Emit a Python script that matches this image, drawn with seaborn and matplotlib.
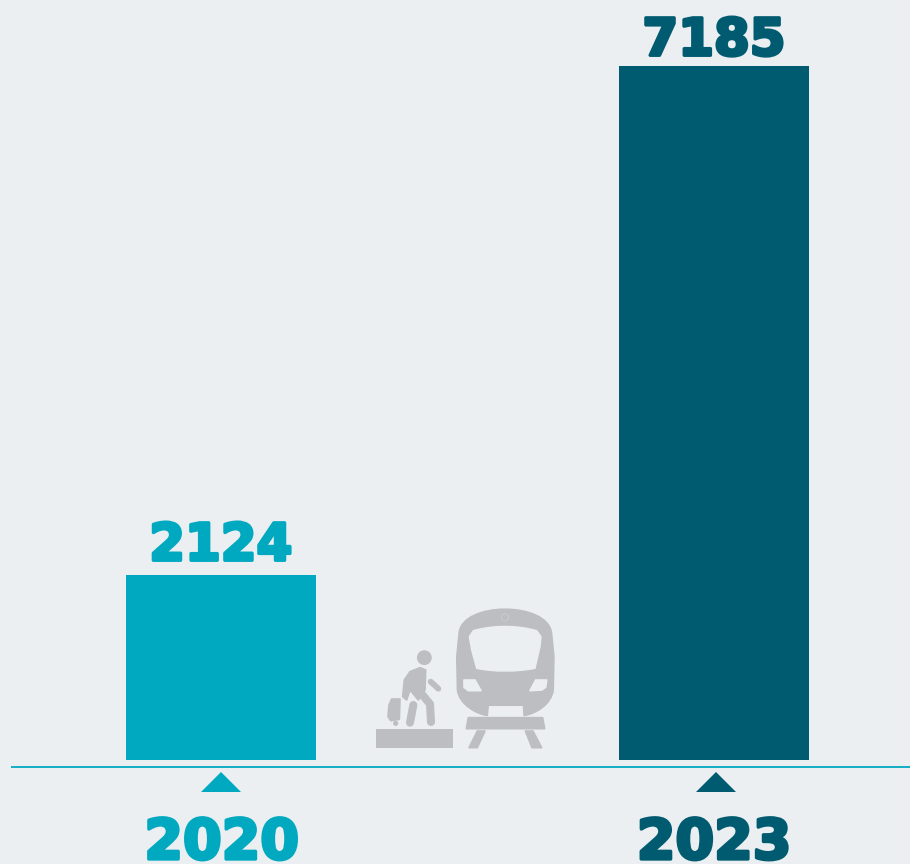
import matplotlib
matplotlib.use('Agg')
import matplotlib.pyplot as plt
import matplotlib.patheffects as pe
from matplotlib.patches import Circle, Polygon, PathPatch, Rectangle
from matplotlib.path import Path
import pandas as pd
import seaborn as sns

years = ['2020', '2023']
values = [2124, 7185]
bar_colors = ['#00A9C0', '#005B70']
year_colors = ['#00A9C0', '#005B70']

BG = '#EBEFF2'
GREY = '#BDBEC2'
FONT = ['DejaVu Sans']

sns.set_theme(style='white')
plt.rcParams['font.family'] = FONT

df = pd.DataFrame({'year': years, 'value': values})

fig = plt.figure(figsize=(9.10, 8.64), dpi=100, facecolor=BG)
# bars stop at y=760px, the axis does not start at zero in the original
ax = fig.add_axes([0, 1 - 760 / 864, 1, 760 / 864])
sns.barplot(data=df, x='year', y='value', hue='year', palette=bar_colors,
            width=0.385, legend=False, saturation=1, linewidth=0, ax=ax)
ax.set_facecolor('none')
ax.set_xlim(-0.448, 1.3976)
ax.set_ylim(284.5, 7841)
ax.axis('off')

# value labels over the bars
for i, (v, c, off) in enumerate(zip(values, bar_colors, [10.6, 7.7])):
    ax.annotate(str(v), (i, v), xytext=(0, off), textcoords='offset points',
                ha='center', va='baseline', fontsize=37, fontweight='bold',
                color=c, path_effects=[pe.withStroke(linewidth=2.4, foreground=c)])

# overlay in pixel coordinates for baseline, arrows, years and the icon
ov = fig.add_axes([0, 0, 1, 1], facecolor='none')
ov.set_xlim(0, 910)
ov.set_ylim(864, 0)
ov.axis('off')

ov.plot([11, 910], [767, 767], color='#00A9C0', lw=1.3, solid_capstyle='butt')

for cx, c in [(221, year_colors[0]), (716, year_colors[1])]:
    ov.add_patch(Polygon([(cx - 20, 792), (cx, 772), (cx + 20, 792)], closed=True, fc=c, ec='none'))

for cx, y, c in [(221.5, years[0], year_colors[0]), (714, years[1], year_colors[1])]:
    ov.text(cx, 859, y, ha='center', va='baseline', fontsize=40, fontweight='bold',
            color=c, path_effects=[pe.withStroke(linewidth=2.4, foreground=c)])


def zp(pts):
    return [(360 + x / 3, 600 + y / 3) for x, y in pts]


def blob(pts, color=GREY):
    ov.add_patch(Polygon(zp(pts), closed=True, fc=color, ec=color, lw=1.2, joinstyle='round'))


def limb(pts, width):
    xs, ys = zip(*zp(pts))
    ov.plot(xs, ys, color=GREY, lw=width, solid_capstyle='round', solid_joinstyle='round')


# train body
codes = [Path.MOVETO, Path.CURVE4, Path.CURVE4, Path.CURVE4, Path.LINETO, Path.LINETO,
         Path.CURVE4, Path.CURVE4, Path.CURVE4, Path.LINETO, Path.LINETO,
         Path.CURVE4, Path.CURVE4, Path.CURVE4, Path.LINETO, Path.LINETO, Path.LINETO]
verts = zp([(382, 347), (350, 342), (298, 315), (292, 270), (290, 170), (297, 100),
            (305, 3), (565, 3), (575, 100), (582, 170), (580, 270),
            (574, 315), (525, 342), (492, 347), (490, 316), (385, 316), (382, 347)])
ov.add_patch(PathPatch(Path(verts, codes), fc=GREY, ec=GREY, lw=1.0, joinstyle='round'))

# window and headlights are cut out with the background colour
window = zp([(328, 110), (340, 92)]) + zp([(400, 75), (470, 75), (530, 92)]) + \
    zp([(543, 110), (540, 140), (525, 205)]) + zp([(470, 216), (400, 216), (350, 205)]) + \
    zp([(335, 150), (328, 110)])
wcodes = [Path.MOVETO, Path.LINETO, Path.CURVE4, Path.CURVE4, Path.CURVE4,
          Path.LINETO, Path.LINETO, Path.LINETO, Path.CURVE4, Path.CURVE4, Path.CURVE4,
          Path.LINETO, Path.LINETO]
ov.add_patch(PathPatch(Path(window, wcodes), fc=BG, ec=BG, lw=1.0, joinstyle='round'))
blob([(312, 240), (345, 240), (363, 272), (325, 272), (312, 262)], BG)
blob([(527, 240), (560, 240), (557, 262), (545, 270), (510, 272)], BG)
cx0, cy0 = zp([(435, 52)])[0]
ov.add_patch(Circle((cx0, cy0), 3.6, fc='none', ec='#CFD1D5', lw=0.5))

# sleeper, rails, platform
blob([(325, 353), (548, 353), (554, 386), (319, 386)])
blob([(352, 393), (375, 393), (352, 443), (327, 443)])
blob([(496, 393), (519, 393), (545, 443), (516, 443)])
px, py = zp([(48, 386)])[0]
ov.add_patch(Rectangle((px, py), 231 / 3, 57 / 3, fc=GREY, ec='none'))

# passenger with suitcase
hx, hy = zp([(193, 173)])[0]
ov.add_patch(Circle((hx, hy), 7.4, fc=GREY, ec='none'))
blob([(133, 240), (150, 215), (180, 203), (197, 210), (195, 270), (175, 300), (150, 270), (140, 300), (128, 290)])
limb([(175, 270), (210, 312), (213, 366)], 5.8)
limb([(160, 315), (150, 368)], 5.8)
limb([(212, 245), (235, 266)], 4.2)
blob([(95, 297), (120, 297), (118, 358), (92, 362), (84, 350), (87, 315)])
wx, wy = zp([(107, 370)])[0]
ov.add_patch(Circle((wx, wy), 2.6, fc=GREY, ec='none'))

plt.savefig('out.png', dpi=100, facecolor=BG)
